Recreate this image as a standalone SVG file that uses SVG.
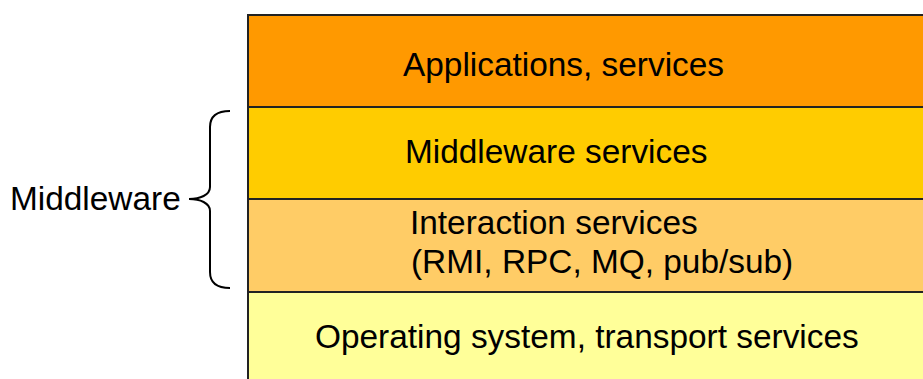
<svg xmlns="http://www.w3.org/2000/svg" width="923" height="379" viewBox="0 0 923 379">
  <style>
    .layer { stroke: #222; stroke-width: 2; }
    .label { font-family: "Liberation Sans", Arial, sans-serif; font-size: 33.4px; fill: #000; }
    .brace { fill: none; stroke: #000; stroke-width: 2; }
  </style>
  <rect width="923" height="379" fill="#fff"/>

  <g id="applications">
    <rect class="layer" x="248" y="15" width="690" height="92" fill="#FF9900"/>
    <text class="label" x="403" y="76">Applications, services</text>
  </g>

  <g id="middleware-services">
    <rect class="layer" x="248" y="107" width="690" height="92" fill="#FFCC00"/>
    <text class="label" x="405" y="163">Middleware services</text>
  </g>

  <g id="interaction-services">
    <rect class="layer" x="248" y="199" width="690" height="93" fill="#FFCC66"/>
    <text class="label" x="410" y="234">Interaction services</text>
    <text class="label" x="411" y="273">(RMI, RPC, MQ, pub/sub)</text>
  </g>

  <g id="operating-system">
    <rect class="layer" x="248" y="292" width="690" height="100" fill="#FFFF99"/>
    <text class="label" x="315" y="348">Operating system, transport services</text>
  </g>

  <g id="middleware">
    <text class="label" x="10" y="210">Middleware</text>
    <path class="brace" d="M230,111 C218,111 210,115 210,127 L210,187 C210,195 200,199 189,199 C200,199 210,203 210,211 L210,272 C210,284 218,288 230,288"/>
  </g>
</svg>
